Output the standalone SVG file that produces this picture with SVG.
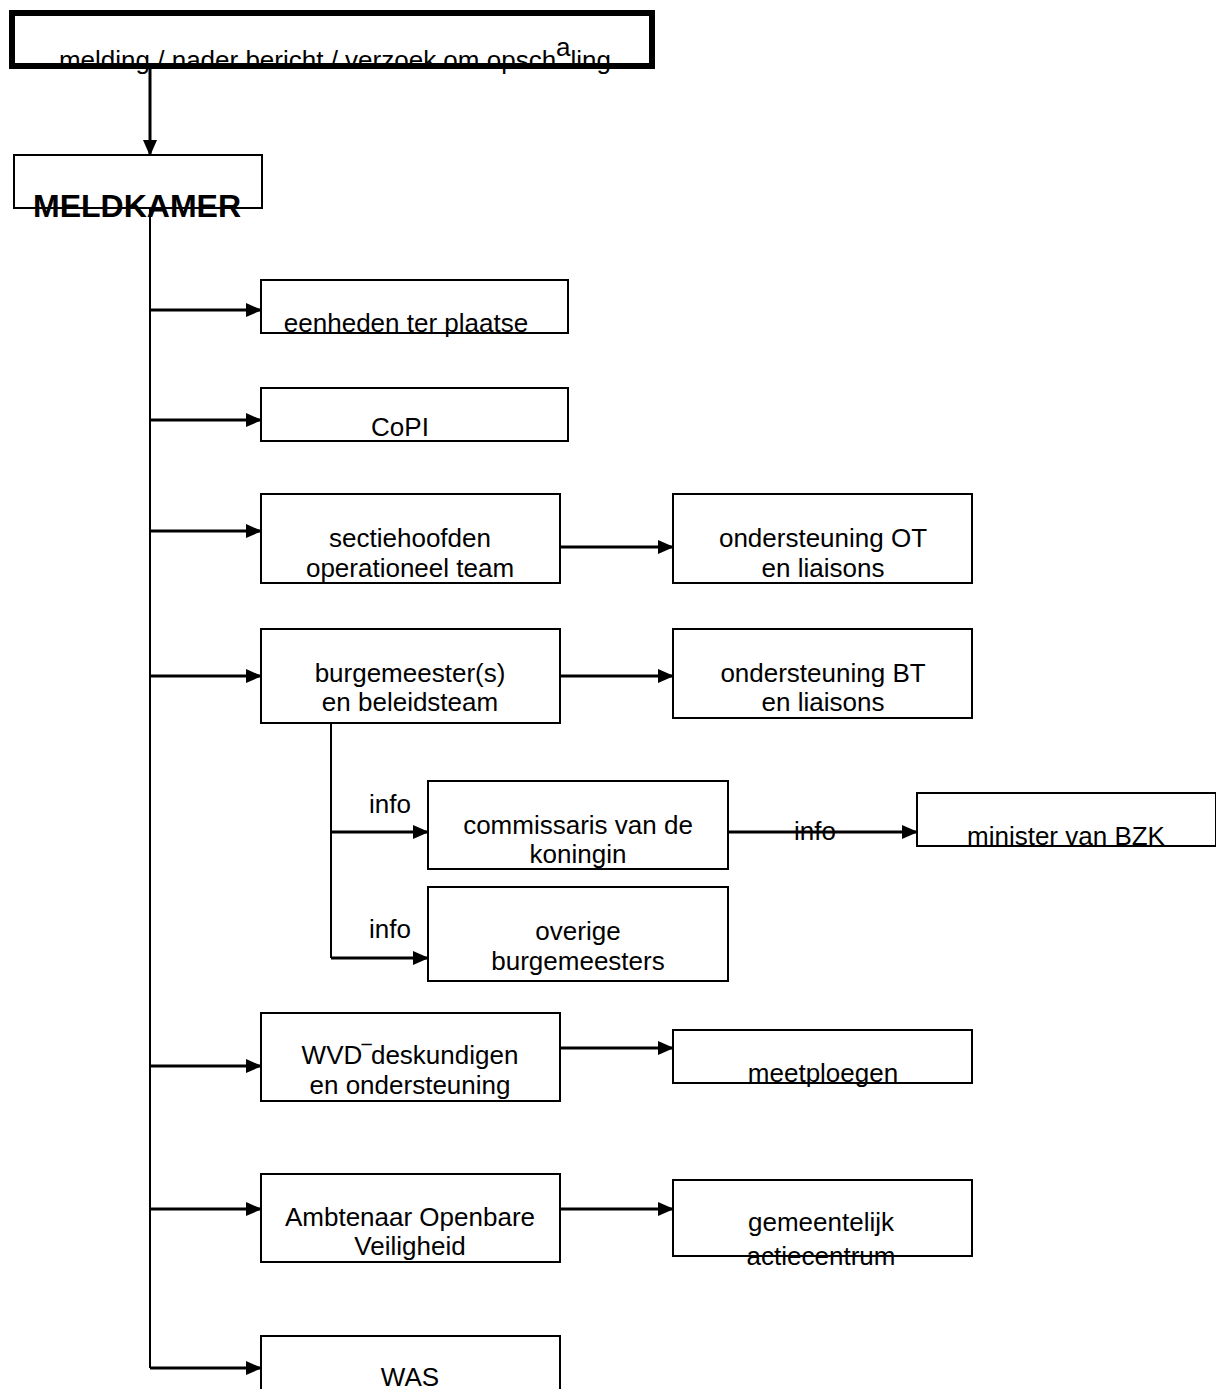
<svg xmlns="http://www.w3.org/2000/svg" width="1216" height="1389" viewBox="0 0 1216 1389">
<defs>
<style>
.box{fill:#fff;stroke:#000;stroke-width:2}
.t{font-family:"Liberation Sans",Arial,sans-serif;font-size:26px;fill:#000;text-anchor:middle}
.c{fill:none;stroke:#000;stroke-width:3}
.v{fill:none;stroke:#000;stroke-width:2}
</style>
<marker id="ah" markerWidth="16" markerHeight="16" refX="15" refY="8" orient="auto" markerUnits="userSpaceOnUse">
<path d="M0,1 L16,8 L0,15 Z" fill="#000"/>
</marker>
</defs>
<rect width="1216" height="1389" fill="#fff"/>
<g id="connectors">
<line class="c" x1="150" y1="68" x2="150" y2="155" marker-end="url(#ah)"/>
<line class="v" x1="150" y1="208" x2="150" y2="1368"/>
<line class="c" x1="150" y1="310" x2="261" y2="310" marker-end="url(#ah)"/>
<line class="c" x1="150" y1="420" x2="261" y2="420" marker-end="url(#ah)"/>
<line class="c" x1="150" y1="531" x2="261" y2="531" marker-end="url(#ah)"/>
<line class="c" x1="150" y1="676" x2="261" y2="676" marker-end="url(#ah)"/>
<line class="c" x1="150" y1="1066" x2="261" y2="1066" marker-end="url(#ah)"/>
<line class="c" x1="150" y1="1209" x2="261" y2="1209" marker-end="url(#ah)"/>
<line class="c" x1="150" y1="1368" x2="261" y2="1368" marker-end="url(#ah)"/>
<line class="c" x1="560" y1="547" x2="673" y2="547" marker-end="url(#ah)"/>
<line class="c" x1="560" y1="676" x2="673" y2="676" marker-end="url(#ah)"/>
<line class="c" x1="560" y1="1048" x2="673" y2="1048" marker-end="url(#ah)"/>
<line class="c" x1="560" y1="1209" x2="673" y2="1209" marker-end="url(#ah)"/>
<line class="v" x1="331" y1="700" x2="331" y2="958"/>
<line class="c" x1="331" y1="832" x2="428" y2="832" marker-end="url(#ah)"/>
<line class="c" x1="331" y1="958" x2="428" y2="958" marker-end="url(#ah)"/>
<line class="c" x1="728" y1="832" x2="917" y2="832" marker-end="url(#ah)"/>
<text class="t" x="390" y="813">info</text>
<text class="t" x="390" y="938">info</text>
<text class="t" x="815" y="840">info</text>
</g>
<g id="melding">
<rect x="12" y="13" width="640" height="53" fill="#fff" stroke="#000" stroke-width="6"/>
<text class="t" x="335" y="69">melding / nader bericht / verzoek om opsch<tspan dy="-13">a</tspan><tspan dy="13">ling</tspan></text>
</g>
<g id="meldkamer">
<rect class="box" x="14" y="155" width="248" height="53"/>
<text class="t" x="137" y="217" style="font-weight:bold;font-size:32px">MELDKAMER</text>
</g>
<g id="eenheden">
<rect class="box" x="261" y="280" width="307" height="53"/>
<text class="t" x="406" y="332">eenheden ter plaatse</text>
</g>
<g id="copi">
<rect class="box" x="261" y="388" width="307" height="53"/>
<text class="t" x="400" y="436">CoPI</text>
</g>
<g id="sectiehoofden">
<rect class="box" x="261" y="494" width="299" height="89"/>
<text class="t" x="410" y="547">sectiehoofden</text>
<text class="t" x="410" y="577">operationeel team</text>
</g>
<g id="ondersteuning-ot">
<rect class="box" x="673" y="494" width="299" height="89"/>
<text class="t" x="823" y="547">ondersteuning OT</text>
<text class="t" x="823" y="577">en liaisons</text>
</g>
<g id="burgemeester">
<rect class="box" x="261" y="629" width="299" height="94"/>
<text class="t" x="410" y="682">burgemeester(s)</text>
<text class="t" x="410" y="711">en beleidsteam</text>
</g>
<g id="ondersteuning-bt">
<rect class="box" x="673" y="629" width="299" height="89"/>
<text class="t" x="823" y="682">ondersteuning BT</text>
<text class="t" x="823" y="711">en liaisons</text>
</g>
<g id="commissaris">
<rect class="box" x="428" y="781" width="300" height="88"/>
<text class="t" x="578" y="834">commissaris van de</text>
<text class="t" x="578" y="863">koningin</text>
</g>
<g id="minister">
<rect class="box" x="917" y="793" width="299" height="53"/>
<text class="t" x="1066" y="845">minister van BZK</text>
</g>
<g id="overige">
<rect class="box" x="428" y="887" width="300" height="94"/>
<text class="t" x="578" y="940">overige</text>
<text class="t" x="578" y="970">burgemeesters</text>
</g>
<g id="wvd">
<rect class="box" x="261" y="1013" width="299" height="88"/>
<text class="t" x="410" y="1064">WVD‾deskundigen</text>
<text class="t" x="410" y="1094">en ondersteuning</text>
</g>
<g id="meetploegen">
<rect class="box" x="673" y="1030" width="299" height="53"/>
<text class="t" x="823" y="1082">meetploegen</text>
</g>
<g id="ambtenaar">
<rect class="box" x="261" y="1174" width="299" height="88"/>
<text class="t" x="410" y="1226">Ambtenaar Openbare</text>
<text class="t" x="410" y="1255">Veiligheid</text>
</g>
<g id="gemeentelijk">
<rect class="box" x="673" y="1180" width="299" height="76"/>
<text class="t" x="821" y="1231">gemeentelijk</text>
<text class="t" x="821" y="1265">actiecentrum</text>
</g>
<g id="was">
<rect class="box" x="261" y="1336" width="299" height="60"/>
<text class="t" x="410" y="1386">WAS</text>
</g>
</svg>
